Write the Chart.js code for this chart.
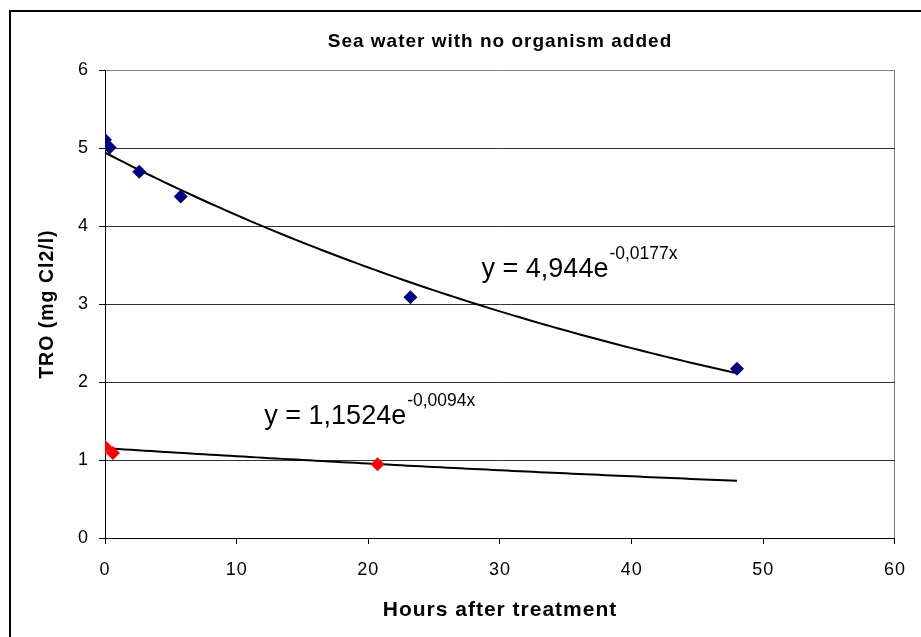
<!doctype html>
<html>

<head>
	<title>Sea water with no organism added</title>
	<script src="https://cdn.jsdelivr.net/npm/chart.js@4.4.0/dist/chart.umd.min.js"></script>
	<style>
	body{
		margin: 0;
		background: #fff;
	}
	#wrap{
		width: 921px;
		height: 637px;
	}
	</style>
</head>

<body>
	<div id="wrap">
		<canvas id="canvas"></canvas>
	</div>
	<script>
		// measured TRO, sea water without organisms
		const hoursHigh = [0, 0.35, 2.6, 5.75, 23.2, 48];
		const troHigh = [5.11, 5.01, 4.70, 4.38, 3.09, 2.17];
		const hoursLow = [0, 0.6, 20.7];
		const troLow = [1.17, 1.09, 0.945];

		// exponential fits y = a * e^(b x), as printed on the chart
		const fitA = [4.944, 1.1524];
		const fitB = [-0.0177, -0.0094];
		const fitEnd = [48, 48];
		const fitLabels = [
			{ base: "y = 4,944e", exp: "-0,0177x" },
			{ base: "y = 1,1524e", exp: "-0,0094x" }
		];

		const xTicks = [0, 10, 20, 30, 40, 50, 60];
		const yTicks = [0, 1, 2, 3, 4, 5, 6];

		function fitCurve(i) {
			const pts = [];
			for (let x = 0; x <= fitEnd[i] + 1e-9; x += 0.5) {
				pts.push({ x: x, y: fitA[i] * Math.exp(fitB[i] * x) });
			}
			return pts;
		}

		function toPoints(xs, ys) {
			return xs.map((x, i) => ({ x: x, y: ys[i] }));
		}

		const FONT = "'Liberation Sans', Arial, sans-serif";

		// slightly spaced-out lettering for titles and ticks
		const spacing = {
			id: 'spacing',
			beforeLayout(chart) { chart.ctx.letterSpacing = '1px'; },
			beforeDraw(chart) { chart.ctx.letterSpacing = '1px'; }
		};

		// outer frame + trendline equations
		const decor = {
			id: 'decor',
			beforeDraw(chart) {
				const c = chart.ctx;
				c.save();
				c.fillStyle = '#fff';
				c.fillRect(0, 0, chart.width, chart.height);
				c.strokeStyle = '#000';
				c.lineWidth = 2;
				c.strokeRect(10, 11, chart.width + 20, chart.height + 20);
				c.restore();
			},
			afterDatasetsDraw(chart) {
				const c = chart.ctx;
				const xs = chart.scales.x, ys = chart.scales.y;
				const anchors = [[28.6, 3.35], [12.1, 1.46]];
				c.save();
				c.letterSpacing = '0px';
				c.fillStyle = '#000';
				c.textBaseline = 'alphabetic';
				fitLabels.forEach((lab, i) => {
					const px = xs.getPixelForValue(anchors[i][0]);
					const py = ys.getPixelForValue(anchors[i][1]);
					c.font = "27px " + FONT;
					c.fillText(lab.base, px, py);
					const w = c.measureText(lab.base).width;
					c.font = "17.5px " + FONT;
					c.fillText(lab.exp, px + w + 1, py - 18);
				});
				c.restore();
			}
		};

		const ctx = document.getElementById('canvas');
		window.myChart = new Chart(ctx, {
			type: 'scatter',
			data: {
				datasets: [
					{
						label: 'TRO',
						data: toPoints(hoursHigh, troHigh),
						pointStyle: 'rectRot',
						pointRadius: 7,
						backgroundColor: '#000080',
						borderColor: '#000080',
						borderWidth: 0,
						order: 1
					},
					{
						label: 'TRO low',
						data: toPoints(hoursLow, troLow),
						pointStyle: 'rectRot',
						pointRadius: 7,
						backgroundColor: '#ff0000',
						borderColor: '#ff0000',
						borderWidth: 0,
						order: 1
					},
					{
						label: 'fit high',
						data: fitCurve(0),
						showLine: true,
						pointRadius: 0,
						borderColor: '#000',
						borderWidth: 2,
						fill: false,
						order: 2
					},
					{
						label: 'fit low',
						data: fitCurve(1),
						showLine: true,
						pointRadius: 0,
						borderColor: '#000',
						borderWidth: 2,
						fill: false,
						order: 2
					}
				]
			},
			options: {
				responsive: true,
				maintainAspectRatio: false,
				animation: false,
				layout: { padding: { left: 0, right: 22, top: 0, bottom: 0 } },
				plugins: {
					legend: { display: false },
					tooltip: { enabled: false },
					title: {
						display: true,
						fullSize: false,
						text: 'Sea water with no organism added',
						color: '#000',
						font: { family: FONT, size: 19, weight: 'bold' },
						padding: { top: 30.5, bottom: 17 }
					}
				},
				scales: {
					x: {
						type: 'linear',
						min: 0,
						max: 60,
						afterBuildTicks(scale) {
							scale.ticks = xTicks.map(v => ({ value: v }));
						},
						afterFit(scale) { scale.height = 99; },
						border: { display: true, color: '#000', width: 1 },
						grid: {
							drawOnChartArea: true,
							color: c => (c.tick && c.tick.value === 60) ? '#808080' : 'rgba(0,0,0,0)',
							tickColor: '#000',
							tickLength: 6
						},
						ticks: {
							color: '#000',
							font: { family: FONT, size: 18 },
							padding: 15,
							maxRotation: 0
						},
						title: {
							display: true,
							text: 'Hours after treatment',
							color: '#000',
							font: { family: FONT, size: 21, weight: 'bold' },
							padding: { top: 0, bottom: 14 }
						}
					},
					y: {
						type: 'linear',
						min: 0,
						max: 6,
						afterBuildTicks(scale) {
							scale.ticks = yTicks.map(v => ({ value: v }));
						},
						afterFit(scale) { scale.width = 105; },
						border: { display: true, color: '#000', width: 1 },
						grid: {
							color: c => (c.tick && c.tick.value === 6) ? '#808080' : '#333',
							tickColor: '#000',
							tickLength: 6
						},
						ticks: {
							color: '#000',
							font: { family: FONT, size: 18 },
							padding: 10
						},
						title: {
							display: true,
							text: 'TRO (mg Cl2/l)',
							color: '#000',
							font: { family: FONT, size: 19.5, weight: 'bold' },
							padding: { top: 36, bottom: 0 }
						}
					}
				}
			},
			plugins: [spacing, decor]
		});
	</script>
</body>

</html>
